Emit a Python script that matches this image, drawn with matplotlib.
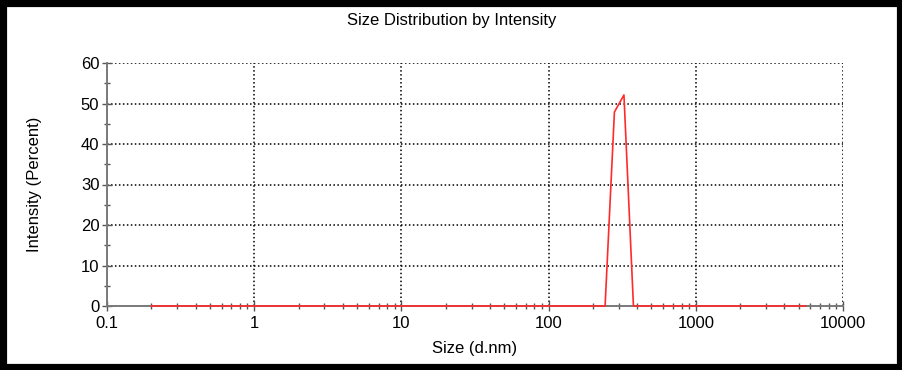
import matplotlib
matplotlib.use("Agg")
import matplotlib.pyplot as plt
from matplotlib.ticker import FixedLocator, FuncFormatter, MultipleLocator
from matplotlib.patches import Rectangle

plt.rcParams['font.family'] = ['Liberation Sans', 'DejaVu Sans']

# Data
sizes = [0.2, 242, 280, 325, 377, 5560]
intensity = [0, 0, 47.9, 52.1, 0, 0]
x_ticks = [0.1, 1, 10, 100, 1000, 10000]
y_ticks = [0, 10, 20, 30, 40, 50, 60]

W, H = 903, 370
fig = plt.figure(figsize=(W / 100, H / 100), dpi=100)
fig.patch.set_facecolor('white')
left, right, top, bottom = 107, 843, 63, 306
ax = fig.add_axes([left / W, 1 - bottom / H, (right - left) / W, (bottom - top) / H])

ax.plot(sizes, intensity, color='#ff2a2a', lw=1.2, zorder=5, clip_on=False)

ax.set_xscale('log')
ax.set_xlim(0.1, 10000)
ax.set_ylim(0, 60)

ax.xaxis.set_major_locator(FixedLocator(x_ticks))
ax.xaxis.set_major_formatter(FuncFormatter(lambda v, p: '%g' % v))
ax.yaxis.set_major_locator(FixedLocator(y_ticks))
ax.yaxis.set_minor_locator(MultipleLocator(5))

for s in ['top', 'right']:
    ax.spines[s].set_visible(False)
for s in ['left', 'bottom']:
    ax.spines[s].set_color('#7a7a7a')
    ax.spines[s].set_linewidth(1.4)
    ax.spines[s].set_zorder(4)

ax.tick_params(axis='both', which='major', direction='inout', length=7, width=1,
               color='#555555', labelsize=12, labelcolor='black', pad=2)
ax.tick_params(axis='x', which='major', pad=4)
ax.tick_params(axis='both', which='minor', direction='inout', length=5, width=1,
               color='#555555')

ax.grid(True, which='major', color='black', linestyle=(0, (1, 1.6)), linewidth=1.1)
ax.set_axisbelow(True)

fig.text(451.5 / W, 1 - 20 / H, 'Size Distribution by Intensity', fontsize=12,
         ha='center', va='center')
ax.set_xlabel('Size (d.nm)', fontsize=12)
ax.xaxis.set_label_coords(0.5, (bottom - 341) / (bottom - top))
ax.set_ylabel('Intensity (Percent)', fontsize=12)
ax.yaxis.set_label_coords((42 - left) / (right - left), 0.5)

# outer black frame
fig.patches.append(Rectangle((0, 0), 1, 1, transform=fig.transFigure, fill=False,
                             edgecolor='black', linewidth=9.5, zorder=10))

fig.savefig('out.png', dpi=100)
